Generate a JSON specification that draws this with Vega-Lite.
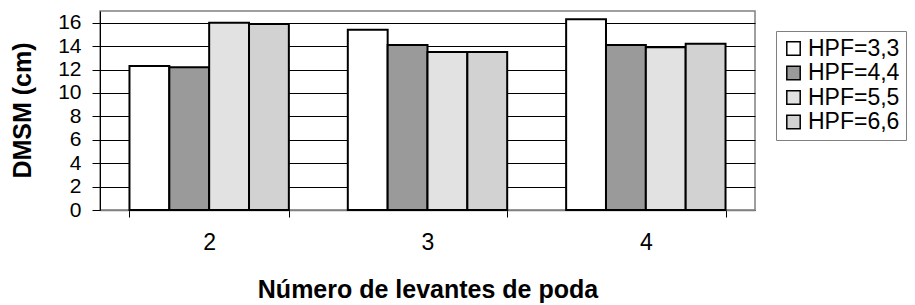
{
  "$schema": "https://vega.github.io/schema/vega-lite/v6.json",
  "width": 655,
  "height": 199,
  "autosize": {"type": "none"},
  "padding": {"left": 100, "top": 11, "right": 160, "bottom": 95},
  "background": "white",
  "config": {
    "font": "Liberation Sans",
    "view": {"stroke": "#808080", "strokeWidth": 1.5}
  },
  "data": {
    "values": [
      {"lev": "2", "hpf": "HPF=3,3", "v": 12.3},
      {"lev": "2", "hpf": "HPF=4,4", "v": 12.2},
      {"lev": "2", "hpf": "HPF=5,5", "v": 16.0},
      {"lev": "2", "hpf": "HPF=6,6", "v": 15.9},
      {"lev": "3", "hpf": "HPF=3,3", "v": 15.4},
      {"lev": "3", "hpf": "HPF=4,4", "v": 14.1},
      {"lev": "3", "hpf": "HPF=5,5", "v": 13.5},
      {"lev": "3", "hpf": "HPF=6,6", "v": 13.5},
      {"lev": "4", "hpf": "HPF=3,3", "v": 16.3},
      {"lev": "4", "hpf": "HPF=4,4", "v": 14.1},
      {"lev": "4", "hpf": "HPF=5,5", "v": 13.9},
      {"lev": "4", "hpf": "HPF=6,6", "v": 14.2}
    ]
  },
  "mark": {"type": "bar", "stroke": "black", "strokeWidth": 2},
  "encoding": {
    "x": {
      "field": "lev",
      "type": "nominal",
      "scale": {"paddingInner": 0.27, "paddingOuter": 0.135},
      "axis": {
        "title": "Número de levantes de poda",
        "titleFontSize": 25,
        "titleFontWeight": "bold",
        "titleColor": "black",
        "titleX": 327.5,
        "titleY": 79,
        "titleBaseline": "middle",
        "labelAngle": 0,
        "labelFontSize": 23,
        "labelColor": "black",
        "labelPadding": 14,
        "tickBand": "extent",
        "tickSize": 7,
        "tickColor": "black",
        "tickWidth": 1,
        "domainColor": "#808080",
        "domainWidth": 1.5,
        "grid": false
      }
    },
    "xOffset": {"field": "hpf", "type": "nominal", "sort": ["HPF=3,3", "HPF=4,4", "HPF=5,5", "HPF=6,6"], "scale": {"paddingInner": 0, "paddingOuter": 0}},
    "y": {
      "field": "v",
      "type": "quantitative",
      "scale": {"domain": [0, 17], "nice": false},
      "axis": {
        "title": "DMSM (cm)",
        "titleFontSize": 25,
        "titleFontWeight": "bold",
        "titleColor": "black",
        "titleAngle": 270,
        "titleX": -78,
        "titleY": 99,
        "titleAlign": "center",
        "titleBaseline": "middle",
        "values": [0, 2, 4, 6, 8, 10, 12, 14, 16],
        "labelOverlap": false,
        "labelFontSize": 21,
        "labelColor": "black",
        "labelPadding": 11,
        "tickSize": 8,
        "tickColor": "black",
        "tickWidth": 1,
        "domainColor": "black",
        "domainWidth": 1,
        "grid": true,
        "gridColor": "black",
        "gridWidth": 1,
        "gridOpacity": 1
      }
    },
    "fill": {
      "field": "hpf",
      "type": "nominal",
      "sort": ["HPF=3,3", "HPF=4,4", "HPF=5,5", "HPF=6,6"],
      "scale": {"range": ["#ffffff", "#9a9a9a", "#e2e2e2", "#d2d2d2"]},
      "legend": {
        "title": null,
        "orient": "none",
        "legendX": 676,
        "legendY": 20,
        "padding": 6,
        "strokeColor": "#808080",
        "fillColor": "white",
        "symbolType": "square",
        "symbolSize": 180,
        "symbolStrokeColor": "black",
        "symbolStrokeWidth": 1.5,
        "labelFontSize": 23,
        "labelColor": "black",
        "labelOffset": 3,
        "rowPadding": 0.5,
        "labelLimit": 200
      }
    }
  }
}
